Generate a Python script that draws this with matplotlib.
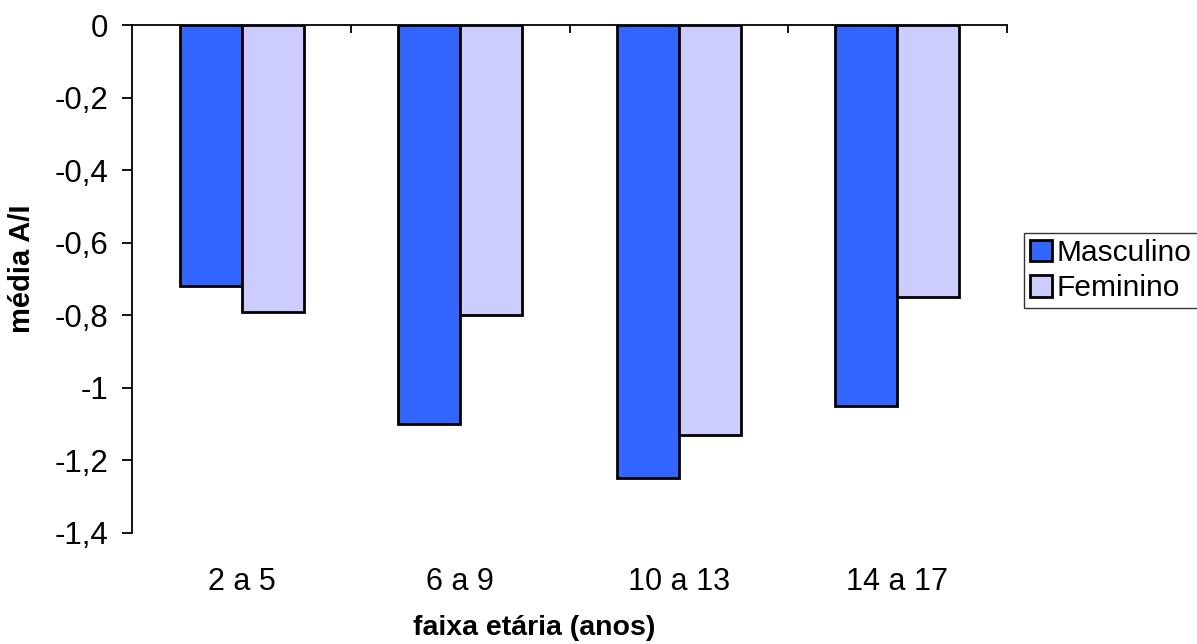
import matplotlib
matplotlib.use("Agg")
import matplotlib.pyplot as plt
import numpy as np

categories = ["2 a 5", "6 a 9", "10 a 13", "14 a 17"]
masculino = [-0.72, -1.10, -1.25, -1.05]
feminino = [-0.79, -0.80, -1.13, -0.75]
yticks = [0, -0.2, -0.4, -0.6, -0.8, -1.0, -1.2, -1.4]
ytick_labels = ["0", "-0,2", "-0,4", "-0,6", "-0,8", "-1", "-1,2", "-1,4"]

plt.rcParams["font.family"] = ["Liberation Sans", "DejaVu Sans"]

fig = plt.figure(figsize=(11.97, 6.44), dpi=100)
ax = fig.add_axes([132.3 / 1197, 1 - 532.7 / 644, (1006.7 - 132.3) / 1197, (532.7 - 25.3) / 644])

x = np.arange(len(categories)) + 0.5
w = 0.284
ax.bar(x - w / 2, masculino, w, color="#3366FF", edgecolor="black", linewidth=2, label="Masculino")
ax.bar(x + w / 2, feminino, w, color="#CCCCFF", edgecolor="black", linewidth=2, label="Feminino")

ax.set_xlim(0, len(categories))
ax.set_ylim(-1.4, 0)

for s in ("bottom", "right"):
    ax.spines[s].set_visible(False)
for s in ("top", "left"):
    ax.spines[s].set_linewidth(1.3)
    ax.spines[s].set_color("black")

ax.set_yticks(yticks)
ax.set_yticklabels(ytick_labels, fontsize=22.5)
ax.tick_params(axis="y", direction="out", length=7.2, width=1.3, pad=10)

ax.set_xticks(x)
ax.set_xticklabels(categories, fontsize=22)
ax.tick_params(axis="x", which="major", length=0, pad=25)
ax.set_xticks(np.arange(1, len(categories) + 1), minor=True)
ax.tick_params(axis="x", which="minor", top=True, bottom=False, direction="in", length=6, width=1.3)

fig.text(534 / 1197, 1 - 628 / 644, "faixa etária (anos)", fontsize=20.5, fontweight="bold",
         ha="center", va="center")
fig.text(22 / 1197, 1 - 269 / 644, "média A/I", fontsize=21, fontweight="bold",
         ha="center", va="center", rotation=90)

leg = fig.legend(loc="upper left", bbox_to_anchor=(1024 / 1197, 1 - 233 / 644), fontsize=21.5,
                 frameon=True, fancybox=False, borderpad=0.2, handlelength=0.75, handleheight=0.75,
                 handletextpad=0.15, labelspacing=0.25, borderaxespad=0)
leg.get_frame().set_edgecolor("black")
leg.get_frame().set_linewidth(1.0)

fig.savefig("out.png", dpi=100)
